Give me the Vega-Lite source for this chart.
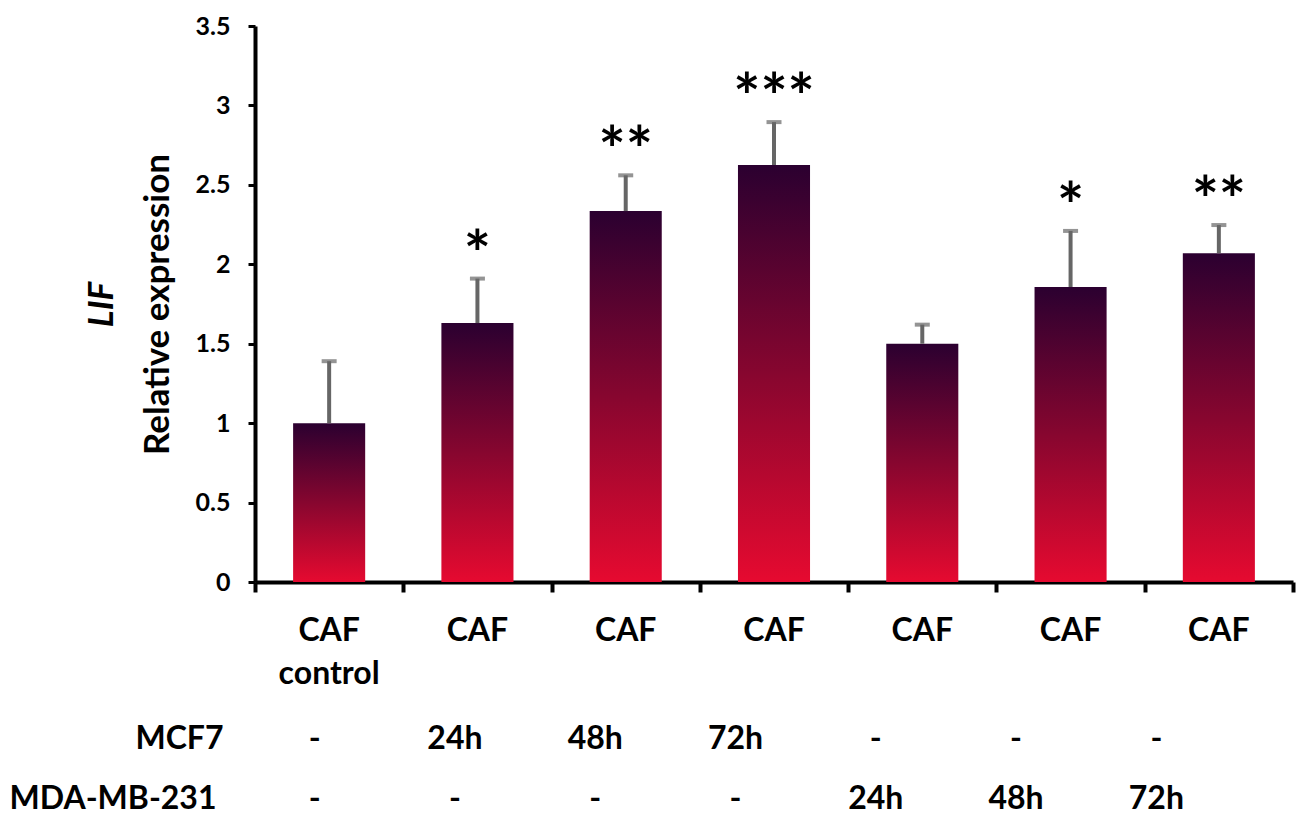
{
  "$schema": "https://vega.github.io/schema/vega-lite/v6.json",
  "width": 1038,
  "height": 556,
  "autosize": "none",
  "padding": {"left": 255, "top": 26, "right": 4, "bottom": 234},
  "config": {
    "view": {"stroke": null},
    "font": "Lato",
    "axis": {"labelFont": "Lato", "titleFont": "Lato", "labelFontWeight": "bold", "titleFontWeight": "bold", "labelColor": "#000000", "titleColor": "#000000", "grid": false}
  },
  "data": {
    "values": [
      {"cond": "control", "value": 1.00, "upper": 1.39, "sig": ""},
      {"cond": "MCF7 24h", "value": 1.63, "upper": 1.91, "sig": "*"},
      {"cond": "MCF7 48h", "value": 2.335, "upper": 2.56, "sig": "**"},
      {"cond": "MCF7 72h", "value": 2.625, "upper": 2.895, "sig": "***"},
      {"cond": "MDA-MB-231 24h", "value": 1.50, "upper": 1.62, "sig": ""},
      {"cond": "MDA-MB-231 48h", "value": 1.857, "upper": 2.21, "sig": "*"},
      {"cond": "MDA-MB-231 72h", "value": 2.07, "upper": 2.247, "sig": "**"}
    ]
  },
  "layer": [
    {
      "encoding": {
        "x": {
          "field": "cond", "type": "nominal", "sort": null,
          "scale": {"paddingInner": 0, "paddingOuter": 0},
          "axis": {"orient": "bottom", "domain": false, "ticks": false, "tickSize": 0, "labelPadding": 58, "labelBaseline": "alphabetic", "labelFontSize": 32, "labelLineHeight": 43, "labelAngle": 0, "labelExpr": "datum.value == 'control' ? ['CAF','control'] : 'CAF'", "title": null}
        }
      },
      "layer": [
        {
          "mark": {"type": "bar", "width": {"band": 0.486}, "color": {"gradient": "linear", "x1": 0, "y1": 0, "x2": 0, "y2": 1, "stops": [{"offset": 0, "color": "#2b0030"}, {"offset": 0.5, "color": "#87062f"}, {"offset": 1, "color": "#e60a30"}]}},
          "encoding": {
            "y": {
              "field": "value", "type": "quantitative",
              "scale": {"domain": [0, 3.5], "nice": false},
              "axis": {"title": "Relative expression", "titleFontSize": 35, "titleX": -80, "values": [0, 0.5, 1, 1.5, 2, 2.5, 3, 3.5], "format": "~g", "labelFontSize": 25, "labelPadding": 18, "tickSize": 7, "tickWidth": 3, "tickColor": "#000000", "domainColor": "#000000", "domainWidth": 4}
            }
          }
        },
        {
          "mark": {"type": "rule", "color": "#666666", "strokeWidth": 4},
          "encoding": {"y": {"field": "value", "type": "quantitative"}, "y2": {"field": "upper"}}
        },
        {
          "mark": {"type": "tick", "color": "#666666", "thickness": 4, "size": 15},
          "encoding": {"y": {"field": "upper", "type": "quantitative"}}
        },
        {
          "mark": {"type": "text", "fontSize": 64, "fontWeight": "bold", "baseline": "alphabetic", "dy": -2, "color": "#000000"},
          "encoding": {"y": {"field": "upper", "type": "quantitative"}, "text": {"field": "sig"}}
        }
      ]
    },
    {
      "mark": {"type": "point", "opacity": 0},
      "encoding": {
        "x": {
          "field": "cond", "type": "nominal", "sort": null,
          "scale": {"range": [-11, 971], "paddingInner": 0, "paddingOuter": 0},
          "axis": {"orient": "bottom", "domain": false, "ticks": false, "tickSize": 0, "labelPadding": 166, "labelBaseline": "alphabetic", "labelFontSize": 32, "labelAngle": 0, "labelExpr": "indexof(datum.value,'MCF7') == 0 ? replace(datum.value,'MCF7 ','') : '-'", "title": "MCF7", "titleX": -32, "titleY": 166, "titleAlign": "right", "titleBaseline": "alphabetic", "titleFontSize": 32}
        },
        "y": {
          "datum": 0, "type": "quantitative",
          "scale": {"domain": [0, 1]},
          "axis": {"orient": "left", "domain": false, "ticks": false, "labels": false, "title": "LIF", "titleFontStyle": "italic", "titleFontSize": 35, "titleX": -136, "grid": false}
        }
      }
    },
    {
      "mark": {"type": "point", "opacity": 0},
      "encoding": {
        "x": {
          "field": "cond", "type": "nominal", "sort": null,
          "scale": {"range": [-11, 971], "paddingInner": 0, "paddingOuter": 0},
          "axis": {"orient": "bottom", "domain": false, "ticks": false, "tickSize": 0, "labelPadding": 226, "labelBaseline": "alphabetic", "labelFontSize": 32, "labelAngle": 0, "labelExpr": "indexof(datum.value,'MDA') == 0 ? replace(datum.value,'MDA-MB-231 ','') : '-'", "title": "MDA-MB-231", "titleX": -39, "titleY": 226, "titleAlign": "right", "titleBaseline": "alphabetic", "titleFontSize": 32}
        }
      }
    },
    {
      "mark": {"type": "rule", "opacity": 0},
      "encoding": {
        "x": {
          "datum": 0, "type": "quantitative",
          "scale": {"domain": [0, 7], "nice": false, "zero": false},
          "axis": {"orient": "bottom", "values": [0, 1, 2, 3, 4, 5, 6, 7], "labels": false, "tickSize": 10, "tickWidth": 4, "tickColor": "#000000", "domain": true, "domainWidth": 4, "domainColor": "#000000", "title": null}
        }
      }
    }
  ],
  "resolve": {"scale": {"x": "independent", "y": "independent"}}
}
